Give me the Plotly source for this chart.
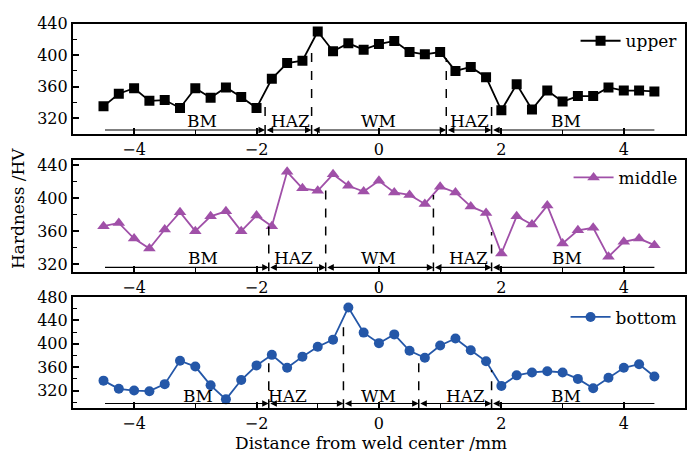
import plotly.graph_objects as go

# ---------------- data ----------------
x_pos = [-4.5, -4.25, -4.0, -3.75, -3.5, -3.25, -3.0, -2.75, -2.5, -2.25, -2.0, -1.75, -1.5,
         -1.25, -1.0, -0.75, -0.5, -0.25, 0.0, 0.25, 0.5, 0.75, 1.0, 1.25, 1.5, 1.75, 2.0,
         2.25, 2.5, 2.75, 3.0, 3.25, 3.5, 3.75, 4.0, 4.25, 4.5]

upper = [335, 351, 358, 342, 343, 333, 358, 346, 359, 347, 333, 370, 390,
         393, 430, 405, 415, 407, 414, 418, 404, 401, 404, 380, 385, 372, 330,
         363, 331, 355, 341, 348, 348, 359, 355, 355, 354]

middle = [366, 370, 351, 339, 362, 383, 360, 378, 384, 360, 379, 366, 432,
          412, 409, 429, 415, 408, 421, 407, 404, 393, 414, 407, 390, 382, 333,
          378, 368, 391, 345, 361, 364, 329, 347, 351, 343]

bottom = [337, 323, 320, 319, 331, 371, 361, 329, 305, 338, 363, 381, 359,
          378, 395, 407, 462, 419, 401, 416, 388, 376, 397, 409, 389, 370, 328,
          346, 351, 353, 351, 340, 324, 342, 359, 365, 344]

series_names = ["upper", "middle", "bottom"]
series_values = [upper, middle, bottom]
series_colors = ["#000000", "#a050a8", "#2457a8"]
series_symbols = ["square", "triangle-up", "circle"]

# zone boundaries (mm) and dashed-line tops (HV) for each panel
boundaries = [[-1.86, -1.1, 1.1, 1.84],
              [-1.8, -0.87, 0.89, 1.84],
              [-1.8, -0.58, 0.65, 1.84]]
boundary_tops = [[341, 412, 396, 345],
                 [368, 414, 404, 359],
                 [377, 435, 380, 355]]
zone_labels = ["BM", "HAZ", "WM", "HAZ", "BM"]
label_x = [[-2.89, -1.45, 0.0, 1.48, 3.05],
           [-2.87, -1.40, 0.0, 1.47, 3.07],
           [-2.95, -1.50, 0.0, 1.42, 3.05]]
label_y = [316, 327, 310.5]
arrow_y = [305, 316, 298]
arrow_start, arrow_end = -4.5, 4.5

y_ranges = [[300, 440], [311, 446], [290, 480]]
x_range = [-5, 5]

# ---------------- layout geometry ----------------
W, H = 687, 457
x_dom = [73 / W, 686 / W]
panel_px = [(15, 128), (155, 269), (295, 409)]
y_doms = [[1 - b / H, 1 - t / H] for (t, b) in panel_px]
legend_y = [1 - 33 / H, 1 - 173 / H, 1 - 316 / H]

FONT = "DejaVu Serif"

fig = go.Figure()
legends = ["legend", "legend2", "legend3"]
for i in range(3):
    xa = "x" if i == 0 else f"x{i+1}"
    ya = "y" if i == 0 else f"y{i+1}"
    fig.add_trace(go.Scatter(
        x=x_pos, y=series_values[i], mode="lines+markers", name=series_names[i],
        line=dict(color=series_colors[i], width=1.8),
        marker=dict(symbol=series_symbols[i], size=10 if i != 1 else 11, color=series_colors[i]),
        xaxis=xa, yaxis=ya, legend=legends[i]))

shapes = []
annotations = []
for i in range(3):
    xr = "x" if i == 0 else f"x{i+1}"
    yr = "y" if i == 0 else f"y{i+1}"
    # dashed vertical lines
    for bx, bt in zip(boundaries[i], boundary_tops[i]):
        shapes.append(dict(type="line", xref=xr, yref=yr, x0=bx, x1=bx,
                           y0=y_ranges[i][0], y1=bt,
                           line=dict(color="black", width=1.5, dash="dash")))
    # arrows
    pts = [arrow_start] + boundaries[i] + [arrow_end]
    for k in range(5):
        x0, x1 = pts[k], pts[k + 1]
        if k == 0:
            side = "end"
        elif k == 4:
            side = "start"
        else:
            side = "end+start"
        annotations.append(dict(
            x=x1, y=arrow_y[i], ax=x0, ay=arrow_y[i], xref=xr, yref=yr,
            axref=xr, ayref=yr, text="", showarrow=True,
            arrowhead=2, startarrowhead=2, arrowside=side,
            arrowsize=1.2, startarrowsize=1.2, arrowwidth=1.1, arrowcolor="black",
            standoff=0, startstandoff=0))
    # zone labels
    for lab, lx in zip(zone_labels, label_x[i]):
        annotations.append(dict(x=lx, y=label_y[i], xref=xr, yref=yr, text=lab,
                                showarrow=False, yanchor="middle",
                                font=dict(family=FONT, size=17, color="black")))

# axis titles
annotations.append(dict(x=18 / W, y=1 - 204 / H, xref="paper", yref="paper",
                        text="Hardness /HV", textangle=-90, showarrow=False,
                        xanchor="center", yanchor="middle",
                        font=dict(family=FONT, size=17, color="black")))
annotations.append(dict(x=372 / W, y=1 - 445 / H, xref="paper", yref="paper",
                        text="Distance from weld center /mm", showarrow=False,
                        xanchor="center", yanchor="middle",
                        font=dict(family=FONT, size=17, color="black")))

axis_common = dict(showline=True, linecolor="black", linewidth=2, mirror=True,
                   ticks="inside", tickcolor="black", tickwidth=1.5, ticklen=6,
                   showgrid=False, zeroline=False,
                   tickfont=dict(family=FONT, size=16, color="black"))

layout = dict(width=W, height=H, margin=dict(l=0, r=0, t=0, b=0),
              paper_bgcolor="white", plot_bgcolor="white",
              shapes=shapes, annotations=annotations, showlegend=True)

for i in range(3):
    xkey = "xaxis" if i == 0 else f"xaxis{i+1}"
    ykey = "yaxis" if i == 0 else f"yaxis{i+1}"
    layout[xkey] = dict(axis_common, domain=x_dom, range=x_range, dtick=2, tick0=0,
                        anchor="y" if i == 0 else f"y{i+1}",
                        minor=dict(ticks="inside", dtick=1, ticklen=4, tickwidth=1.2,
                                   tickcolor="black"))
    layout[ykey] = dict(axis_common, domain=y_doms[i], range=y_ranges[i], dtick=40, tick0=0,
                        anchor="x" if i == 0 else f"x{i+1}",
                        minor=dict(ticks="inside", dtick=20, ticklen=4, tickwidth=1.2,
                                   tickcolor="black"))
    layout[legends[i]] = dict(x=0.995, y=legend_y[i], xanchor="right", yanchor="middle",
                              bgcolor="rgba(0,0,0,0)",
                              font=dict(family=FONT, size=17, color="black"),
                              itemwidth=40, tracegroupgap=0)

fig.update_layout(**layout)
fig.write_html("out.html")
